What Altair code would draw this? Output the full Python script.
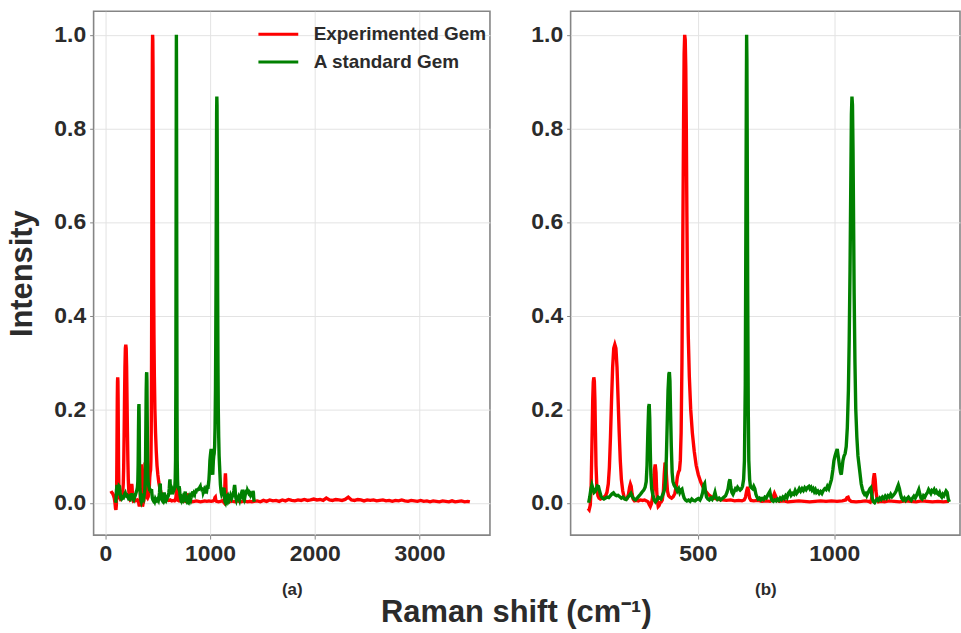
import altair as alt
import pandas as pd

# ---- Experimented Gem (red) ----
red_x = [55, 62, 70, 78, 86, 93, 98, 102, 106, 109, 112, 115, 117, 119, 121, 123, 125, 127, 130, 134,
         138, 143, 150, 156, 162, 167, 172, 176, 180, 184, 188, 192, 196, 200, 204, 208, 212, 216, 220, 225,
         230, 236, 242, 246, 250, 253, 256, 259, 263, 268, 275, 282, 290, 298, 305, 312, 318, 322, 326, 330,
         334, 338, 341, 344, 347, 349, 352, 355, 358, 362, 366, 370, 374, 377, 380, 383, 386, 389, 393, 398,
         404, 410, 416, 421, 425, 429, 433, 436, 439, 442, 445, 448, 450, 452, 454, 456, 458, 460, 462, 465,
         469, 474, 480, 487, 494, 502, 511, 520, 530, 540, 552, 565, 578, 590, 605, 620, 635, 650, 662, 670,
         675, 679, 683, 686, 690, 695, 705, 720, 735, 750, 765, 773, 777, 781, 785, 790, 800, 815, 830, 850,
         870, 890, 910, 930, 950, 970, 990, 1010, 1030, 1042, 1047, 1051, 1055, 1062, 1080, 1100, 1115, 1125, 1132, 1137,
         1141, 1144, 1147, 1150, 1153, 1157, 1162, 1170, 1185, 1200, 1220, 1240, 1260, 1280, 1300, 1320, 1340, 1360, 1380, 1400,
         1420, 1450, 1480, 1510, 1540, 1570, 1600, 1630, 1660, 1690, 1720, 1750, 1780, 1810, 1840, 1870, 1900, 1930, 1960, 1990,
         2020, 2050, 2080, 2110, 2140, 2170, 2200, 2230, 2260, 2290, 2320, 2350, 2380, 2410, 2440, 2470, 2500, 2530, 2560, 2590,
         2620, 2650, 2680, 2710, 2740, 2770, 2800, 2830, 2860, 2890, 2920, 2950, 2980, 3010, 3040, 3070, 3100, 3130, 3160, 3190,
         3220, 3250, 3280, 3310, 3340, 3370, 3400, 3430, 3460, 3480]
red_y = [0.025, 0.022, 0.020, 0.016, 0.010, 0.000, -0.012, -0.015, -0.005, 0.030, 0.120, 0.220, 0.258, 0.268, 0.260, 0.220, 0.150, 0.080, 0.035, 0.015,
         0.010, 0.008, 0.010, 0.012, 0.015, 0.022, 0.040, 0.075, 0.140, 0.220, 0.290, 0.330, 0.338, 0.330, 0.290, 0.220, 0.150, 0.090, 0.050, 0.025,
         0.012, 0.008, 0.010, 0.018, 0.033, 0.040, 0.035, 0.020, 0.008, 0.004, 0.005, 0.004, 0.006, 0.005, 0.006, 0.004, 0.002, -0.004, -0.008, -0.002,
         0.010, 0.035, 0.070, 0.082, 0.065, 0.030, 0.003, -0.008, -0.006, 0.000, 0.002, 0.006, 0.025, 0.060, 0.086, 0.080, 0.050, 0.025, 0.015, 0.012,
         0.010, 0.013, 0.020, 0.035, 0.055, 0.065, 0.070, 0.090, 0.150, 0.300, 0.550, 0.820, 0.960, 1.000, 0.990, 0.930, 0.800, 0.620, 0.480, 0.360,
         0.270, 0.200, 0.150, 0.110, 0.080, 0.060, 0.044, 0.033, 0.024, 0.017, 0.012, 0.009, 0.007, 0.006, 0.005, 0.006, 0.004, 0.005, 0.004, 0.006,
         0.012, 0.025, 0.034, 0.025, 0.010, 0.005, 0.004, 0.005, 0.003, 0.004, 0.003, 0.006, 0.014, 0.020, 0.015, 0.005, 0.003, 0.004, 0.002, 0.003,
         0.004, 0.003, 0.002, 0.003, 0.004, 0.003, 0.004, 0.003, 0.004, 0.006, 0.011, 0.012, 0.006, 0.003, 0.002, 0.003, 0.004, 0.003, 0.001, 0.008,
         0.030, 0.052, 0.063, 0.050, 0.025, 0.008, 0.002, 0.003, 0.002, 0.004, 0.003, 0.002, 0.004, 0.003, 0.002, 0.004, 0.003, 0.002, 0.003, 0.002,
         0.003, 0.004, 0.002, 0.005, 0.003, 0.006, 0.004, 0.005, 0.003, 0.006, 0.004, 0.007, 0.005, 0.004, 0.006, 0.005, 0.007, 0.005, 0.006, 0.008,
         0.006, 0.007, 0.005, 0.010, 0.006, 0.005, 0.007, 0.006, 0.005, 0.007, 0.012, 0.006, 0.005, 0.007, 0.006, 0.004, 0.006, 0.005, 0.006, 0.004,
         0.005, 0.006, 0.004, 0.005, 0.003, 0.005, 0.004, 0.006, 0.004, 0.003, 0.005, 0.004, 0.003, 0.005, 0.003, 0.004, 0.002, 0.004, 0.003, 0.002,
         0.004, 0.003, 0.002, 0.004, 0.002, 0.003, 0.004, 0.002, 0.003, 0.002]

# ---- A standard Gem (green) ----
green_x = [100, 104, 108, 112, 116, 120, 124, 128, 132, 136, 140, 145, 150, 156, 162, 168, 174, 180, 186, 191,
           196, 202, 208, 214, 220, 226, 232, 238, 244, 250, 255, 260, 266, 272, 278, 284, 290, 296, 302, 307,
           311, 314, 317, 320, 322, 324, 326, 328, 331, 335, 340, 345, 350, 355, 360, 365, 370, 375, 379, 382,
           385, 388, 391, 394, 396, 398, 400, 403, 406, 409, 413, 417, 421, 425, 430, 434, 438, 442, 446, 450,
           455, 460, 466, 472, 478, 484, 490, 496, 502, 508, 513, 518, 522, 525, 528, 532, 537, 542, 548, 553,
           558, 563, 567, 572, 578, 584, 590, 596, 602, 607, 611, 615, 618, 621, 625, 629, 634, 638, 642, 646,
           650, 655, 660, 664, 668, 671, 674, 676, 678, 679, 680, 681, 683, 685, 687, 690, 693, 697, 701, 705,
           709, 713, 717, 721, 726, 731, 736, 741, 746, 751, 756, 760, 764, 768, 772, 777, 782, 787, 792, 797,
           802, 807, 812, 817, 822, 827, 832, 837, 842, 847, 852, 857, 862, 867, 872, 877, 882, 887, 892, 897,
           902, 907, 911, 915, 919, 923, 927, 931, 935, 940, 945, 950, 955, 960, 965, 970, 975, 980, 985, 990,
           995, 999, 1003, 1007, 1011, 1015, 1019, 1023, 1026, 1029, 1032, 1036, 1040, 1044, 1048, 1052, 1055, 1058, 1061, 1063,
           1065, 1067, 1069, 1071, 1073, 1076, 1079, 1083, 1087, 1091, 1095, 1099, 1103, 1107, 1111, 1115, 1119, 1123, 1127, 1131,
           1134, 1137, 1140, 1144, 1148, 1152, 1157, 1162, 1167, 1172, 1177, 1182, 1187, 1192, 1197, 1202, 1207, 1212, 1217, 1222,
           1227, 1231, 1235, 1239, 1243, 1247, 1252, 1257, 1262, 1267, 1272, 1277, 1282, 1287, 1292, 1297, 1302, 1306, 1310, 1314,
           1318, 1322, 1327, 1332, 1337, 1342, 1346, 1350, 1354, 1358, 1362, 1366, 1370, 1374, 1378, 1382, 1386, 1390, 1394, 1398,
           1402, 1406, 1410, 1414, 1418, 1422]
green_y = [0.000, 0.012, 0.028, 0.038, 0.030, 0.022, 0.024, 0.030, 0.036, 0.035, 0.025, 0.015, 0.010, 0.008, 0.010, 0.012, 0.011, 0.015, 0.019, 0.021,
           0.017, 0.015, 0.016, 0.013, 0.010, 0.012, 0.008, 0.007, 0.012, 0.016, 0.020, 0.013, 0.008, 0.006, 0.010, 0.014, 0.018, 0.023, 0.027, 0.033,
           0.045, 0.080, 0.150, 0.205, 0.211, 0.180, 0.110, 0.060, 0.030, 0.018, 0.006, 0.002, 0.006, 0.012, 0.010, 0.008, 0.015, 0.022, 0.030, 0.050,
           0.100, 0.170, 0.240, 0.275, 0.279, 0.260, 0.200, 0.120, 0.065, 0.045, 0.038, 0.034, 0.030, 0.025, 0.030, 0.022, 0.027, 0.029, 0.018, 0.010,
           0.006, 0.004, 0.006, 0.003, 0.008, 0.005, 0.004, 0.007, 0.009, 0.006, 0.012, 0.022, 0.038, 0.041, 0.025, 0.012, 0.008, 0.006, 0.010, 0.007,
           0.012, 0.022, 0.012, 0.007, 0.010, 0.006, 0.009, 0.012, 0.015, 0.022, 0.030, 0.045, 0.050, 0.035, 0.022, 0.018, 0.025, 0.030, 0.028, 0.033,
           0.030, 0.027, 0.030, 0.035, 0.050, 0.090, 0.250, 0.550, 0.880, 1.000, 0.950, 0.800, 0.450, 0.200, 0.090, 0.050, 0.035, 0.032, 0.030, 0.035,
           0.030, 0.018, 0.012, 0.008, 0.010, 0.006, 0.009, 0.007, 0.012, 0.010, 0.016, 0.020, 0.024, 0.012, 0.005, 0.003, 0.006, 0.004, 0.008, 0.005,
           0.010, 0.007, 0.012, 0.009, 0.015, 0.011, 0.020, 0.024, 0.016, 0.020, 0.018, 0.026, 0.020, 0.024, 0.030, 0.025, 0.030, 0.026, 0.032, 0.028,
           0.033, 0.035, 0.030, 0.033, 0.027, 0.030, 0.024, 0.028, 0.022, 0.025, 0.020, 0.024, 0.020, 0.026, 0.030, 0.028, 0.035, 0.030, 0.040, 0.050,
           0.070, 0.090, 0.100, 0.108, 0.115, 0.098, 0.080, 0.065, 0.060, 0.075, 0.090, 0.100, 0.105, 0.120, 0.160, 0.240, 0.350, 0.500, 0.700, 0.830,
           0.868, 0.850, 0.750, 0.600, 0.450, 0.300, 0.200, 0.140, 0.100, 0.080, 0.060, 0.040, 0.030, 0.022, 0.018, 0.020, 0.015, 0.020, 0.025, 0.030,
           0.032, 0.020, 0.008, 0.002, 0.000, 0.004, 0.008, 0.005, 0.010, 0.007, 0.012, 0.009, 0.014, 0.010, 0.015, 0.012, 0.018, 0.013, 0.016, 0.020,
           0.025, 0.032, 0.038, 0.030, 0.018, 0.010, 0.006, 0.010, 0.005, 0.009, 0.012, 0.008, 0.005, 0.010, 0.014, 0.010, 0.016, 0.022, 0.028, 0.018,
           0.010, 0.008, 0.015, 0.012, 0.018, 0.022, 0.028, 0.024, 0.020, 0.026, 0.024, 0.028, 0.022, 0.025, 0.020, 0.018, 0.022, 0.015, 0.012, 0.018,
           0.015, 0.020, 0.025, 0.022, 0.008, 0.002]

series_names = ["Experimented Gem", "A standard Gem"]
series_colors = ["#ff0000", "#008000"]
y_ticks = [0.0, 0.2, 0.4, 0.6, 0.8, 1.0]
left_ticks = [0, 1000, 2000, 3000]
right_ticks = [500, 1000]

red = pd.DataFrame({"x": red_x, "y": red_y, "series": series_names[0]})
green = pd.DataFrame({"x": green_x, "y": green_y, "series": series_names[1]})

FONT = "Liberation Sans"
TXT = "#2b2b2b"
Y_DOMAIN = [-0.0691, 1.0504]
LW = 3.4

color_scale = alt.Scale(domain=series_names, range=series_colors)


def y_enc(title):
    return alt.Y("y:Q", scale=alt.Scale(domain=Y_DOMAIN, nice=False, zero=False),
                 axis=alt.Axis(values=y_ticks, format=".1f", title=title,
                               titleFontSize=31, titlePadding=15))


# Left panel: full range
lx = alt.X("x:Q", scale=alt.Scale(domain=[-111, 3672], nice=False, zero=False),
           axis=alt.Axis(values=left_ticks, format="d", title="(a)"))
legend = alt.Legend(orient="none", legendX=164, legendY=14, title=None,
                    symbolType="stroke", symbolSize=1600, symbolStrokeWidth=3,
                    labelFont=FONT, labelFontSize=19, labelFontWeight="bold",
                    labelColor=TXT, labelOffset=14, labelLimit=0, clipHeight=18,
                    rowPadding=9, padding=0)
left_red = alt.Chart(red).mark_line(strokeWidth=LW).encode(
    x=lx, y=y_enc("Intensity"),
    color=alt.Color("series:N", scale=color_scale, legend=legend))
left_green = alt.Chart(green).mark_line(strokeWidth=LW).encode(
    x=lx, y=y_enc("Intensity"),
    color=alt.Color("series:N", scale=color_scale, legend=legend))
left = alt.layer(left_red, left_green).properties(width=398, height=526)

# Right panel: zoom on 100-1420
rx = alt.X("x:Q", scale=alt.Scale(domain=[34, 1461], nice=False, zero=False),
           axis=alt.Axis(values=right_ticks, format="d", title="(b)"))
right_red = alt.Chart(red).transform_filter(
    (alt.datum.x >= 98) & (alt.datum.x <= 1425)
).mark_line(strokeWidth=LW, color=series_colors[0]).encode(x=rx, y=y_enc(None))
right_green = alt.Chart(green).mark_line(strokeWidth=LW, color=series_colors[1]).encode(x=rx, y=y_enc(None))
right = alt.layer(right_red, right_green).properties(width=391, height=526)

chart = alt.hconcat(left, right, spacing=39).properties(
    title=alt.TitleParams("Raman shift (cm⁻¹)", orient="bottom", anchor="middle", fontSize=31,
                          fontWeight="bold", font=FONT, color=TXT, offset=-1, dx=33),
    padding={"left": 6, "top": 9, "right": 0, "bottom": 0},
    background="white",
).configure_view(
    stroke="#858585", strokeWidth=1.6
).configure_axis(
    labelFont=FONT, labelFontSize=23, labelFontWeight="bold", labelColor=TXT,
    titleFont=FONT, titleFontWeight="bold", titleColor=TXT, titleFontSize=17,
    tickColor="#858585", tickSize=4, labelPadding=4, domain=False,
    grid=True, gridColor="#e3e3e3", gridWidth=1,
).configure_axisX(titlePadding=16)

chart.save("out.html", embed_options={"renderer": "svg", "actions": False})
